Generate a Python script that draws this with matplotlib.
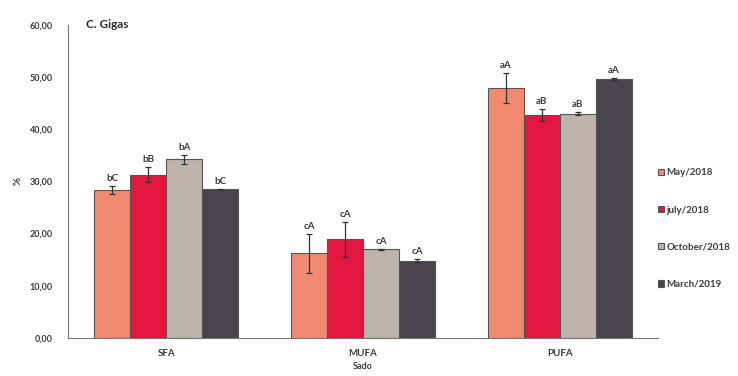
import numpy as np
import matplotlib.pyplot as plt

# fatty acid classes and sampling dates
groups = ["SFA", "MUFA", "PUFA"]
dates = ["May/2018", "july/2018", "October/2018", "March/2019"]

may = [28.3, 16.2, 47.9]
july = [31.3, 18.9, 42.7]
october = [34.2, 17.0, 43.0]
march = [28.5, 14.8, 49.6]

may_err = [0.8, 3.7, 2.9]
july_err = [1.5, 3.3, 1.2]
october_err = [0.8, 0.1, 0.3]
march_err = [0.1, 0.3, 0.2]

letters = [
    ["bC", "cA", "aA"],
    ["bB", "cA", "aB"],
    ["bA", "cA", "aB"],
    ["bC", "cA", "aA"],
]

colors = ["#F28A72", "#E2163F", "#BDB4AE", "#48454D"]

plt.rcParams['font.family'] = ['Lato', 'DejaVu Sans']

values = [may, july, october, march]
errors = [may_err, july_err, october_err, march_err]

fig = plt.figure(figsize=(7.38, 3.76), dpi=100)
ax = fig.add_axes([0.092, 0.101, 0.80, 0.833])

x = np.arange(len(groups))
w = 0.183
txt_color = "#3a3a40"

for i in range(4):
    pos = x + (i - 1.5) * w
    ax.bar(pos, values[i], w, color=colors[i], edgecolor="#555555",
           linewidth=0.8, label=dates[i], zorder=2)
    ax.errorbar(pos, values[i], yerr=errors[i], fmt="none", ecolor="#333333",
                elinewidth=0.9, capsize=2.5, capthick=0.9, zorder=3)
    for p, v, e, t in zip(pos, values[i], errors[i], letters[i]):
        ax.text(p, v + e + 0.6, t, ha="center", va="bottom", fontsize=7,
                fontweight="bold", color=txt_color)

ax.set_xlim(-0.5, 2.5)
ax.set_ylim(0, 60)
ax.set_yticks(np.arange(0, 61, 10))
ax.set_yticklabels([f"{v:.2f}".replace(".", ",") for v in range(0, 61, 10)],
                   fontsize=6.5, fontweight="bold", color=txt_color)
ax.tick_params(axis="y", length=0, pad=11)
ax.set_xticks(x)
ax.set_xticklabels(groups, fontsize=7, fontweight="bold", color=txt_color)
ax.tick_params(axis="x", length=0, pad=8)

for s in ["top", "right"]:
    ax.spines[s].set_visible(False)
ax.spines["left"].set_color("#777777")
ax.spines["bottom"].set_color("#777777")

ax.set_ylabel("%", fontsize=7, fontweight="bold", color=txt_color, rotation=90,
              labelpad=5)
ax.set_xlabel("Sado", fontsize=6.5, fontweight="bold", color=txt_color, labelpad=3)

ax.text(0.03, 1.0, "C. Gigas", transform=ax.transAxes, fontsize=8.5,
        fontweight="bold", color="#2a2a30", va="center", ha="left")

leg = fig.legend(loc="center left", bbox_to_anchor=(0.887, 0.392), frameon=False,
                 fontsize=7, handlelength=0.6, handleheight=0.6, handletextpad=0.2,
                 labelspacing=2.9, borderaxespad=0)
for t in leg.get_texts():
    t.set_fontweight("bold")
    t.set_color(txt_color)

fig.savefig("out.png", dpi=100)
